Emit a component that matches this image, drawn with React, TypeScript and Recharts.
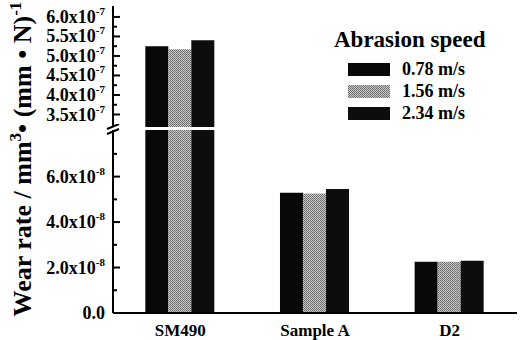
import { BarChart, Bar, XAxis, YAxis } from "recharts";

const CATEGORIES = ["SM490", "Sample A", "D2"];
const SPEED_LABELS = ["0.78 m/s", "1.56 m/s", "2.34 m/s"];
const RATE_078 = [5.25e-7, 5.29e-8, 2.25e-8];
const RATE_156 = [5.17e-7, 5.26e-8, 2.25e-8];
const RATE_234 = [5.4e-7, 5.45e-8, 2.3e-8];
const UPPER_TICKS = [3.5e-7, 3.75e-7, 4.0e-7, 4.25e-7, 4.5e-7, 4.75e-7, 5.0e-7, 5.25e-7, 5.5e-7, 5.75e-7, 6.0e-7];
const LOWER_TICKS = [0, 1e-8, 2e-8, 3e-8, 4e-8, 5e-8, 6e-8, 7e-8];
const UPPER_DOMAIN = [3.18e-7, 6.28e-7];
const LOWER_DOMAIN = [0, 8.05e-8];

const FONT = '"Liberation Serif", "DejaVu Serif", serif';
const W = 525;
const AXIS_W = 113;
const MARGIN_R = 8;
const KEYS = ["s0", "s1", "s2"];
const FILLS = ["#080808", "url(#dither)", "#0d0d0d"];

const rows = CATEGORIES.map((name, i) => ({ name, s0: RATE_078[i], s1: RATE_156[i], s2: RATE_234[i] }));
// upper panel only shows the part above the break
const upperRows = rows.map((r) => {
  const o: any = { name: r.name };
  KEYS.forEach((k) => {
    const v = (r as any)[k];
    o[k] = v > LOWER_DOMAIN[1] ? v : null;
  });
  return o;
});

function sci(v: number) {
  if (v === 0) return { m: "0.0", e: "" };
  const e = Math.floor(Math.log10(v) + 1e-9);
  return { m: (v / Math.pow(10, e)).toFixed(1), e: String(e) };
}

const BreakMark = ({ x, y }: { x: number; y: number }) => (
  <g>
    <rect x={x - 2} y={y - 3} width={4} height={3} fill="#fff" />
    <line x1={x - 6} y1={y - 1} x2={x + 6} y2={y - 6} stroke="#000" strokeWidth={2} />
    <line x1={x - 6} y1={y + 4} x2={x + 6} y2={y - 1} stroke="#000" strokeWidth={2} />
  </g>
);

const leftTick = (breakAt?: number) => (props: any) => {
  const { x, y, payload, index } = props;
  if (breakAt !== undefined && payload.value === breakAt) return <BreakMark x={x} y={y} />;
  const major = index % 2 === 0;
  if (!major) return <line x1={x} x2={x + 4} y1={y} y2={y} stroke="#000" strokeWidth={2} />;
  const { m, e } = sci(payload.value);
  return (
    <g>
      <line x1={x} x2={x + 7} y1={y} y2={y} stroke="#000" strokeWidth={2} />
      <text x={x - 8} y={y + 6} textAnchor="end" fontFamily={FONT} fontWeight="bold" fontSize={18} fill="#000">
        {e ? `${m}x10` : m}
        {e && (
          <tspan dy={-8} fontSize={11}>
            {e}
          </tspan>
        )}
      </text>
    </g>
  );
};

const rightTick = (breakAt?: number) => (props: any) => {
  const { x, y, payload, index } = props;
  if (breakAt !== undefined && payload.value === breakAt) return <BreakMark x={x} y={y} />;
  const len = index % 2 === 0 ? 7 : 4;
  return <line x1={x - len} x2={x} y1={y} y2={y} stroke="#000" strokeWidth={2} />;
};

const topTick = (props: any) => (
  <line x1={props.x} x2={props.x} y1={props.y} y2={props.y + 6} stroke="#000" strokeWidth={2} />
);

const axisLine = { stroke: "#000", strokeWidth: 2 };

export default function App() {
  return (
    <div style={{ position: "absolute", left: 0, top: 0, width: W, height: 340, background: "#fff" }}>
      <svg width={0} height={0} style={{ position: "absolute" }}>
        <defs>
          <pattern id="dither" width={2} height={2} patternUnits="userSpaceOnUse">
            <rect width={2} height={2} fill="#c8c8c8" />
            <rect width={1} height={1} fill="#6a6a6a" />
            <rect x={1} y={1} width={1} height={1} fill="#7a7a7a" />
          </pattern>
        </defs>
      </svg>

      <div style={{ position: "absolute", left: 0, top: 0 }}>
        <BarChart width={W} height={130} data={upperRows} margin={{ top: 6, right: MARGIN_R, bottom: 3, left: 0 }} barCategoryGap="24%" barGap={0}>
          <XAxis dataKey="name" orientation="top" height={0} axisLine={axisLine} tickLine={false} tickSize={0} tick={topTick} />
          <YAxis yAxisId="l" width={AXIS_W} domain={UPPER_DOMAIN} allowDataOverflow ticks={UPPER_TICKS} interval={0} axisLine={axisLine} tickLine={false} tickSize={0} tickMargin={0} tick={leftTick()} />
          <YAxis yAxisId="r" orientation="right" width={0} domain={UPPER_DOMAIN} allowDataOverflow ticks={UPPER_TICKS} interval={0} axisLine={axisLine} tickLine={false} tickSize={0} tickMargin={0} tick={rightTick()} />
          {KEYS.map((k, i) => (
            <Bar key={k} yAxisId="l" dataKey={k} fill={FILLS[i]} isAnimationActive={false} />
          ))}
        </BarChart>
      </div>

      <div style={{ position: "absolute", left: 0, top: 124 }}>
        <BarChart width={W} height={216} data={rows} margin={{ top: 6, right: MARGIN_R, bottom: 0, left: 0 }} barCategoryGap="24%" barGap={0}>
          <XAxis dataKey="name" height={27} axisLine={axisLine} tickLine={false} tickMargin={5} tick={{ fill: "#000", fontSize: 17, fontWeight: "bold", fontFamily: FONT }} />
          <YAxis yAxisId="l" width={AXIS_W} domain={LOWER_DOMAIN} allowDataOverflow ticks={[...LOWER_TICKS, LOWER_DOMAIN[1]]} interval={0} axisLine={axisLine} tickLine={false} tickSize={0} tickMargin={0} tick={leftTick(LOWER_DOMAIN[1])} />
          <YAxis yAxisId="r" orientation="right" width={0} domain={LOWER_DOMAIN} allowDataOverflow ticks={[...LOWER_TICKS, LOWER_DOMAIN[1]]} interval={0} axisLine={axisLine} tickLine={false} tickSize={0} tickMargin={0} tick={rightTick(LOWER_DOMAIN[1])} />
          {KEYS.map((k, i) => (
            <Bar key={k} yAxisId="l" dataKey={k} fill={FILLS[i]} isAnimationActive={false} />
          ))}
        </BarChart>
      </div>

      <svg width={W} height={340} style={{ position: "absolute", left: 0, top: 0, pointerEvents: "none" }}>
        <text transform="translate(31,159) rotate(-90)" textAnchor="middle" fontFamily={FONT} fontWeight="bold" fontSize={26} fill="#000">
          Wear rate / mm
          <tspan dy={-10} fontSize={17}>3</tspan>
          <tspan dy={10}>• (mm • N)</tspan>
          <tspan dy={-10} fontSize={17}>-1</tspan>
        </text>
        <text x={334} y={47} fontFamily={FONT} fontWeight="bold" fontSize={23} fill="#000">
          Abrasion speed
        </text>
        {SPEED_LABELS.map((s, i) => (
          <g key={s}>
            <rect x={348} y={63 + i * 22} width={42} height={13} fill={FILLS[i]} />
            <text x={402} y={75 + i * 22} fontFamily={FONT} fontWeight="bold" fontSize={18} fill="#000">
              {s}
            </text>
          </g>
        ))}
      </svg>
    </div>
  );
}
